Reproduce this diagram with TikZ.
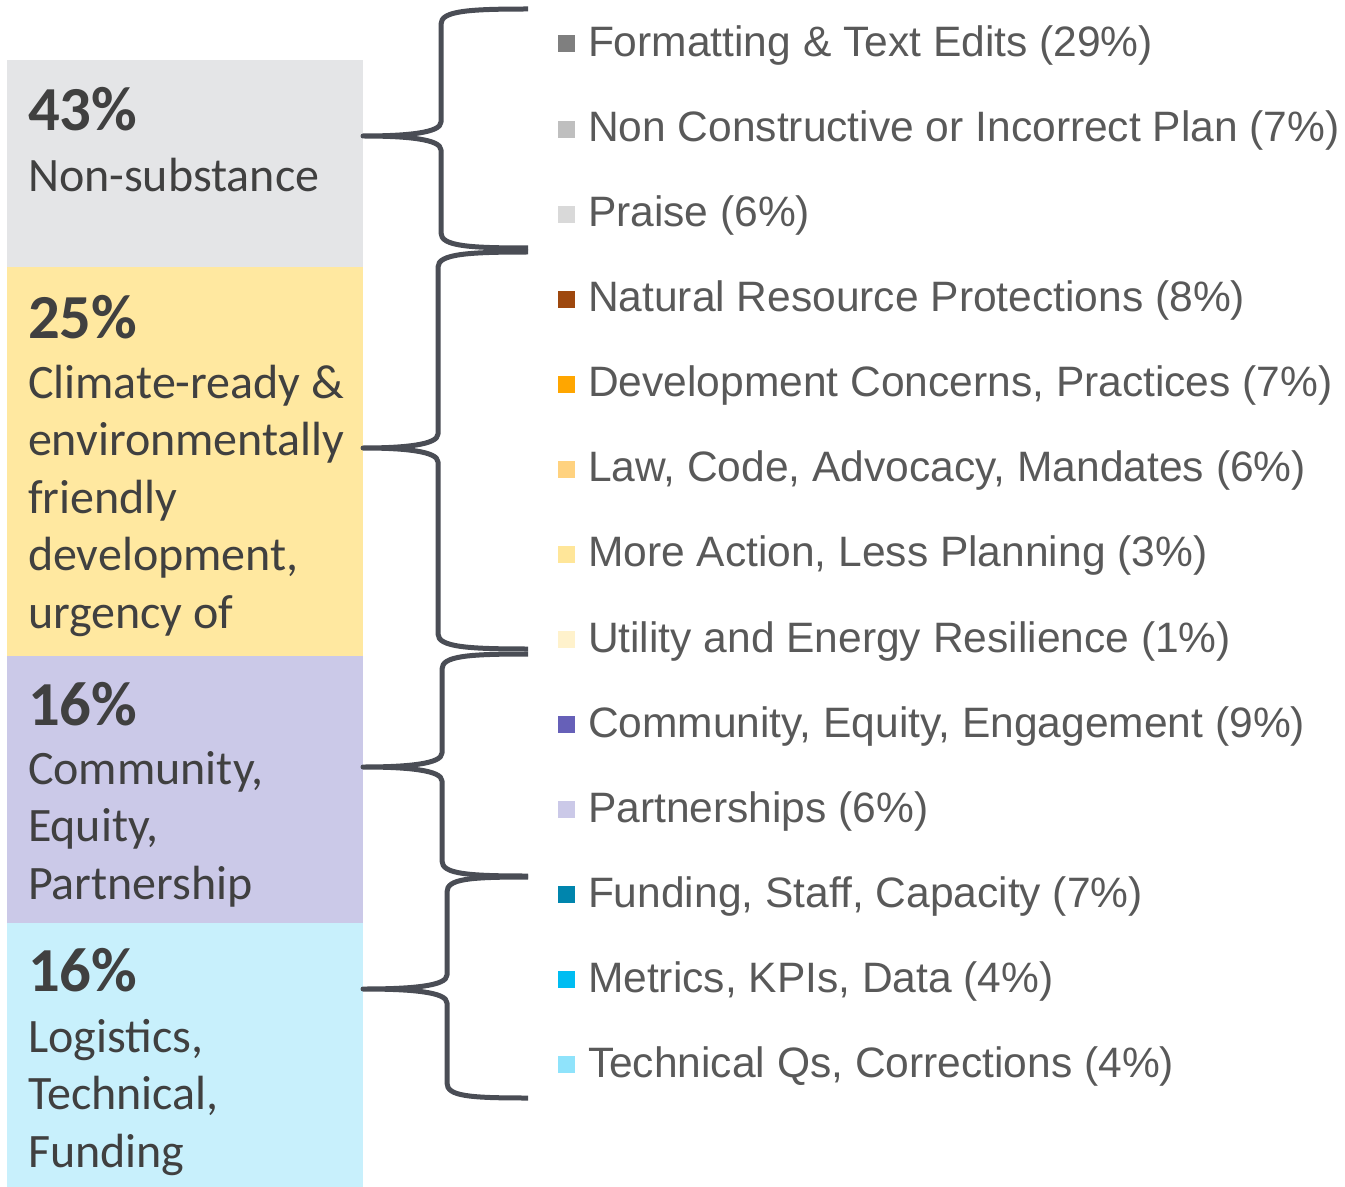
\documentclass[tikz,border=0pt]{standalone}
\usepackage{fontspec}
\setmainfont{Liberation Sans}
\newfontfamily\calibri{Carlito}
\definecolor{boxgray}{HTML}{E4E5E7}
\definecolor{boxyellow}{HTML}{FFE8A0}
\definecolor{boxpurple}{HTML}{CBC9E8}
\definecolor{boxcyan}{HTML}{C8F0FC}
\definecolor{boxtext}{HTML}{404040}
\definecolor{itemtext}{HTML}{595959}
\definecolor{bracegray}{HTML}{4A4D55}
\definecolor{swA}{HTML}{7F7F7F}
\definecolor{swB}{HTML}{BFBFBF}
\definecolor{swC}{HTML}{D9D9D9}
\definecolor{swD}{HTML}{9E480E}
\definecolor{swE}{HTML}{FFA600}
\definecolor{swF}{HTML}{FFD27F}
\definecolor{swG}{HTML}{FFE699}
\definecolor{swH}{HTML}{FFF2CC}
\definecolor{swI}{HTML}{6660B8}
\definecolor{swJ}{HTML}{CBC9E8}
\definecolor{swK}{HTML}{0085AD}
\definecolor{swL}{HTML}{00BDF2}
\definecolor{swM}{HTML}{8FE3FB}

\begin{document}
\begin{tikzpicture}[x=0.75pt, y=-0.75pt,
  every node/.style={inner sep=0pt, outer sep=0pt},
  catbox/.style={anchor=north west, minimum width=267pt},
  pct/.style={anchor=base west, font=\calibri\bfseries\fontsize{47}{50}\selectfont, text=boxtext},
  desc/.style={anchor=base west, align=left, font=\calibri\fontsize{36}{43.1}\selectfont, text=boxtext},
  swatch/.style={minimum size=12.75pt},
  item/.style={anchor=base west, font=\fontsize{31.9}{36}\selectfont, text=itemtext},
  bracepen/.style={draw=bracegray, line width=3.75pt, line join=round}]

  \useasboundingbox (0,0) rectangle (1345,1187);

  % ── Category boxes (left column) ──────────────────────────────
  \node[catbox, fill=boxgray,   minimum height=155.25pt] (nonsub)    at (7,60)  {};
  \node[catbox, fill=boxyellow, minimum height=291.75pt] (climate)   at (7,267) {};
  \node[catbox, fill=boxpurple, minimum height=200.25pt] (community) at (7,656) {};
  \node[catbox, fill=boxcyan,   minimum height=198pt]    (logistics) at (7,923) {};

  % base anchor of a multi-line node = baseline of its last line
  \node[pct]  (nonsubpct) at (28,131) {43\%};
  \node[desc] (nonsubtxt) at (28,192) {Non-substance};

  \node[pct]  (climatepct) at (28,339) {25\%};
  \node[desc] (climatetxt) at (28,628)
    {Climate-ready \&\\environmentally\\friendly\\development,\\urgency of};

  \node[pct]  (communitypct) at (28,725) {16\%};
  \node[desc] (communitytxt) at (28,899) {Community,\\Equity,\\Partnership};

  \node[pct]  (logisticspct) at (28,991) {16\%};
  \node[desc] (logisticstxt) at (28,1167) {Logistics,\\Technical,\\Funding};

  % ── Braces: tip at the box, ends at the first / last item ─────
  \foreach \ya/\yb/\ym/\xs in {9/248/136/441, 252/649/448/438, 654/876/767/442, 877/1098/989/447}
    \draw[bracepen] (528,\ya) .. controls (468,\ya) and (\xs,\ya+2) .. (\xs,\ya+15)
      -- (\xs,\ym-14) .. controls (\xs,\ym-3) and (\xs-35,\ym) .. (363,\ym)
      .. controls (\xs-35,\ym) and (\xs,\ym+3) .. (\xs,\ym+14)
      -- (\xs,\yb-15) .. controls (\xs,\yb-2) and (468,\yb) .. (528,\yb);

  % ── Sub-category items (right column) ─────────────────────────
  \foreach \col/\txt [count=\i, evaluate=\i as \ry using 42+85.08*(\i-1)] in {
      swA/{Formatting \& Text Edits (29\%)},
      swB/{Non Constructive or Incorrect Plan (7\%)},
      swC/{Praise (6\%)},
      swD/{Natural Resource Protections (8\%)},
      swE/{Development Concerns, Practices (7\%)},
      swF/{Law, Code, Advocacy, Mandates (6\%)},
      swG/{More Action, Less Planning (3\%)},
      swH/{Utility and Energy Resilience (1\%)},
      swI/{Community, Equity, Engagement (9\%)},
      swJ/{Partnerships (6\%)},
      swK/{Funding, Staff, Capacity (7\%)},
      swL/{Metrics, KPIs, Data (4\%)},
      swM/{Technical Qs, Corrections (4\%)}} {
    \node[swatch, fill=\col] (sw\i) at (566,\ry+2) {};
    \node[item] (item\i) at (588,\ry+14.5) {\txt};
  }

\end{tikzpicture}
\end{document}
